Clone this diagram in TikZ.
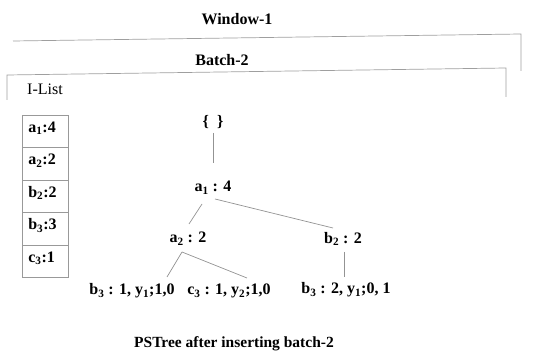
\documentclass[tikz,border=0pt]{standalone}
\usepackage{fontspec}
\setmainfont{Liberation Serif}
\usetikzlibrary{calc}
\tikzset{
  frame/.style={draw=gray!75, line width=0.7pt},
  title/.style={font=\fontsize{16}{18}\selectfont\bfseries, inner sep=0pt},
  cell/.style={draw=gray!80, line width=0.7pt, minimum height=32.5pt, text width=34pt, text height=11pt, text depth=10pt, inner xsep=6pt, inner ysep=0pt, align=left, font=\fontsize{16}{18}\selectfont\bfseries, anchor=north west},
  tnode/.style={font=\fontsize{16}{18}\selectfont\bfseries, inner sep=0pt},
  edge/.style={draw=gray!85, line width=0.7pt}
}
\begin{document}
\begin{tikzpicture}[x=1pt, y=-1pt]
\useasboundingbox (0,0) rectangle (550,352);
% titles and brackets
\node[title] (win) at (237,19) {Window-1};
\node[title] (bat) at (222,60) {Batch-2};
\node[font=\fontsize{16}{18}\selectfont, inner sep=0pt, anchor=west] (ilist) at (27,89) {I-List};
\coordinate (w1) at (13,41);
\coordinate (w2) at (521,34);
\coordinate (w3) at (521,71);
\draw[frame] (w1) -- (w2) -- (w3);
\coordinate (b1) at (7,100);
\coordinate (b2c) at (7,75);
\coordinate (b3c) at (506,68);
\coordinate (b4) at (506,97);
\draw[frame] (b1) -- (b2c) -- (b3c) -- (b4);
% I-List table
\node[cell] (c1) at (22,115) {a\textsubscript{1}:4};
\node[cell] (c2) at (22,147.5) {a\textsubscript{2}:2};
\node[cell] (c3c) at (22,180) {b\textsubscript{2}:2};
\node[cell] (c4) at (22,212.5) {b\textsubscript{3}:3};
\node[cell] (c5) at (22,245) {c\textsubscript{3}:1};
% tree
\node[tnode] (root) at (213,122) {\{\ \ \}};
\node[tnode] (a1) at (213,188) {a\textsubscript{1} : 4};
\node[tnode] (a2) at (188,239) {a\textsubscript{2} : 2};
\node[tnode] (bb2) at (343,239) {b\textsubscript{2} : 2};
\node[tnode] (lb3) at (132,291) {b\textsubscript{3} : 1, y\textsubscript{1};1,0};
\node[tnode] (lc3) at (229,291) {c\textsubscript{3} : 1, y\textsubscript{2};1,0};
\node[tnode] (rb3) at (346,290) {b\textsubscript{3} : 2, y\textsubscript{1};0, 1};
\draw[edge] ($(root.center)+(0,11)$) -- ($(a1.center)+(0,-25)$);
\draw[edge] ($(a1.center)+(-11,16)$) -- ($(a2.center)+(1,-15)$);
\draw[edge] ($(a1.center)+(2,11)$) -- ($(bb2.center)+(-10,-11)$);
\draw[edge] ($(a2.center)+(-6,13)$) -- ($(lb3.center)+(35,-14)$);
\draw[edge] ($(a2.center)+(-6,13)$) -- ($(lc3.center)+(18,-13)$);
\draw[edge] ($(bb2.center)+(1,13)$) -- ($(rb3.center)+(-2,-13)$);
% caption
\node[title, font=\fontsize{15.5}{18}\selectfont\bfseries] (cap) at (234,344) {PSTree after inserting batch-2};
\end{tikzpicture}
\end{document}
